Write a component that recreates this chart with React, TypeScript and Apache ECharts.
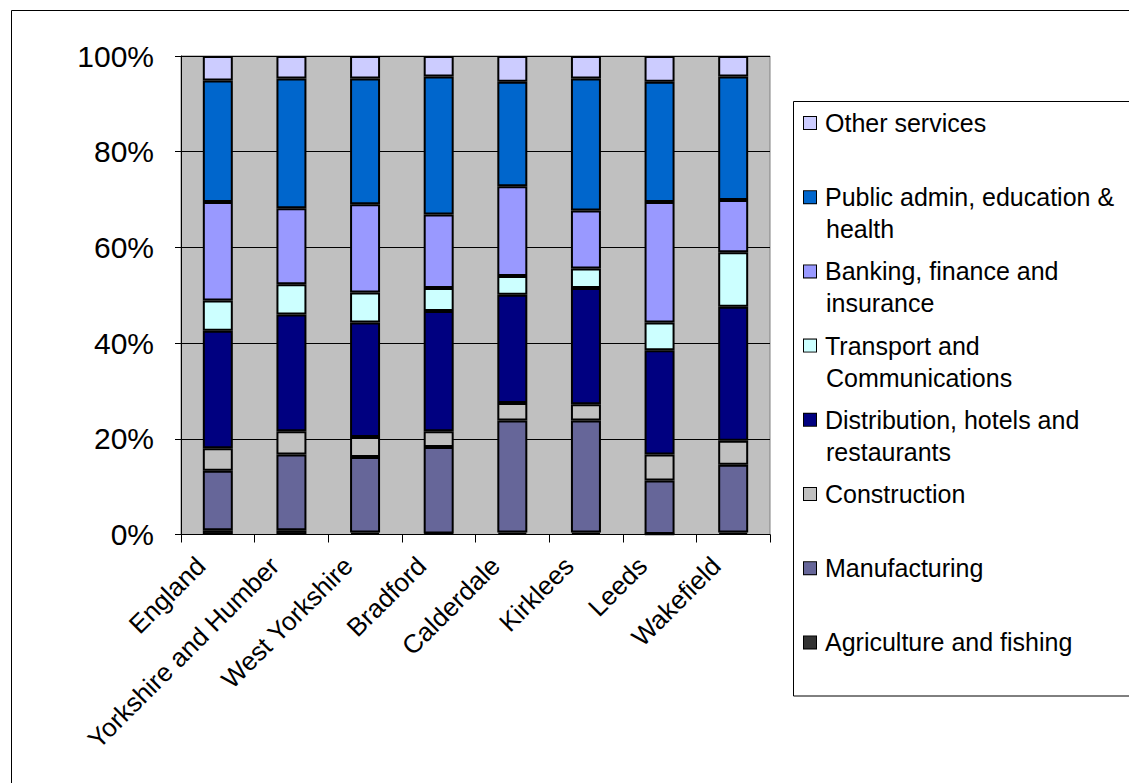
import React, { useEffect, useRef } from "react";
import * as echarts from "echarts";

// Areas shown on the category axis
const areas = [
  "England",
  "Yorkshire and Humber",
  "West Yorkshire",
  "Bradford",
  "Calderdale",
  "Kirklees",
  "Leeds",
  "Wakefield",
];

// Share of employment by industry (%), bottom of stack first
const agriculture = [0.9, 0.9, 0.4, 0.2, 0.4, 0.4, 0.1, 0.4];
const manufacturing = [12.4, 15.8, 15.8, 18.1, 23.4, 23.4, 11.2, 14.2];
const construction = [4.7, 4.9, 4.2, 3.3, 3.7, 3.4, 5.4, 5.0];
const distribution = [24.6, 24.4, 23.9, 25.1, 22.6, 24.3, 21.8, 28.0];
const transport = [6.3, 6.3, 6.3, 4.8, 3.9, 4.1, 5.8, 11.4];
const banking = [20.6, 15.9, 18.4, 15.4, 18.8, 12.1, 25.2, 10.9];
const publicAdmin = [25.4, 27.1, 26.3, 28.8, 21.8, 27.6, 25.1, 25.8];
const otherServices = [5.1, 4.7, 4.7, 4.3, 5.4, 4.7, 5.4, 4.3];

// Industry names, bottom of stack first
const industryNames = [
  "Agriculture and fishing",
  "Manufacturing",
  "Construction",
  "Distribution, hotels and restaurants",
  "Transport and Communications",
  "Banking, finance and insurance",
  "Public admin, education & health",
  "Other services",
];

// Legend labels, split into the lines they wrap onto
const legendLines: Record<string, string[]> = {
  "Other services": ["Other services"],
  "Public admin, education & health": ["Public admin, education &", "health"],
  "Banking, finance and insurance": ["Banking, finance and", "insurance"],
  "Transport and Communications": ["Transport and", "Communications"],
  "Distribution, hotels and restaurants": ["Distribution, hotels and", "restaurants"],
  Construction: ["Construction"],
  Manufacturing: ["Manufacturing"],
  "Agriculture and fishing": ["Agriculture and fishing"],
};

const industryValues = [
  agriculture,
  manufacturing,
  construction,
  distribution,
  transport,
  banking,
  publicAdmin,
  otherServices,
];

const industryColors = [
  "#333333",
  "#666699",
  "#C0C0C0",
  "#000080",
  "#CCFFFF",
  "#9999FF",
  "#0066CC",
  "#CCCCFF",
];

const yTicks = [0, 20, 40, 60, 80, 100];

const FONT = "'Liberation Sans', Arial, sans-serif";

export default function App() {
  const ref = useRef<HTMLDivElement>(null);

  useEffect(() => {
    if (!ref.current) return;
    const chart = echarts.init(ref.current, undefined, { renderer: "svg" });

    const rich: Record<string, any> = {
      t: { fontSize: 25, fontFamily: FONT, color: "#000", lineHeight: 32 },
      gap: { width: 9, lineHeight: 32 },
      sp: { width: 22, lineHeight: 32 },
    };
    industryColors.forEach((c, i) => {
      rich["b" + i] = {
        width: 12,
        height: 12,
        lineHeight: 32,
        backgroundColor: c,
        borderColor: "#000",
        borderWidth: 1,
      };
    });

    const option: any = {
      animation: false,
      backgroundColor: "#ffffff",
      textStyle: { fontFamily: FONT },
      grid: {
        left: 181,
        top: 56,
        width: 589,
        height: 478.5,
        show: true,
        backgroundColor: "#C0C0C0",
        borderColor: "#808080",
        borderWidth: 1,
      },
      graphic: [
        {
          type: "rect",
          shape: { x: 11.5, y: 10.5, width: 1200, height: 900 },
          style: { fill: "none", stroke: "#000", lineWidth: 1 },
          silent: true,
          z: -1,
        },
        {
          type: "rect",
          shape: { x: 793.5, y: 101.5, width: 400, height: 594.5 },
          style: { fill: "#fff", stroke: "#000", lineWidth: 1 },
          silent: true,
          z: 0,
        },
      ],
      legend: {
        orient: "vertical",
        left: 799,
        top: 107,
        padding: 0,
        itemGap: 10.2,
        itemWidth: 0,
        itemHeight: 0,
        icon: "none",
        selectedMode: false,
        z: 5,
        data: industryNames.slice().reverse(),
        formatter: (name: string) => {
          const idx = industryNames.indexOf(name);
          const lines = legendLines[name];
          const first = `{b${idx}| }{gap| }{t|${lines[0]}}`;
          const second = lines.length > 1 ? `{sp| }{t|${lines[1]}}` : `{t| }`;
          return first + "\n" + second;
        },
        textStyle: { rich, fontSize: 25, lineHeight: 32 },
      },
      xAxis: {
        type: "category",
        data: areas,
        boundaryGap: true,
        axisLine: { show: true, lineStyle: { color: "#000", width: 1 } },
        axisTick: { show: true, length: 8, lineStyle: { color: "#000" } },
        axisLabel: {
          rotate: 45,
          interval: 0,
          margin: 10,
          padding: [0, 24, 0, 0],
          fontSize: 26,
          fontFamily: FONT,
          color: "#000",
        },
        splitLine: { show: false },
      },
      yAxis: {
        type: "value",
        min: 0,
        max: 100,
        interval: 20,
        axisLine: { show: true, lineStyle: { color: "#000", width: 1 } },
        axisTick: { show: true, length: 6, lineStyle: { color: "#000" } },
        axisLabel: {
          margin: 27,
          fontSize: 30,
          fontFamily: FONT,
          color: "#000",
          formatter: (v: number) => (yTicks.includes(v) ? `${v}%` : ""),
        },
        splitLine: { show: true, lineStyle: { color: "#000", width: 1 } },
      },
      series: industryNames.map((name, i) => ({
        name,
        type: "bar",
        stack: "share",
        barWidth: 30,
        data: industryValues[i],
        itemStyle: {
          color: industryColors[i],
          borderColor: "#000",
          borderWidth: 2,
        },
        emphasis: { disabled: true },
      })),
    };

    chart.setOption(option);
    return () => chart.dispose();
  }, []);

  return (
    <div
      ref={ref}
      style={{ position: "absolute", left: 0, top: 0, width: 1129, height: 783 }}
    />
  );
}
